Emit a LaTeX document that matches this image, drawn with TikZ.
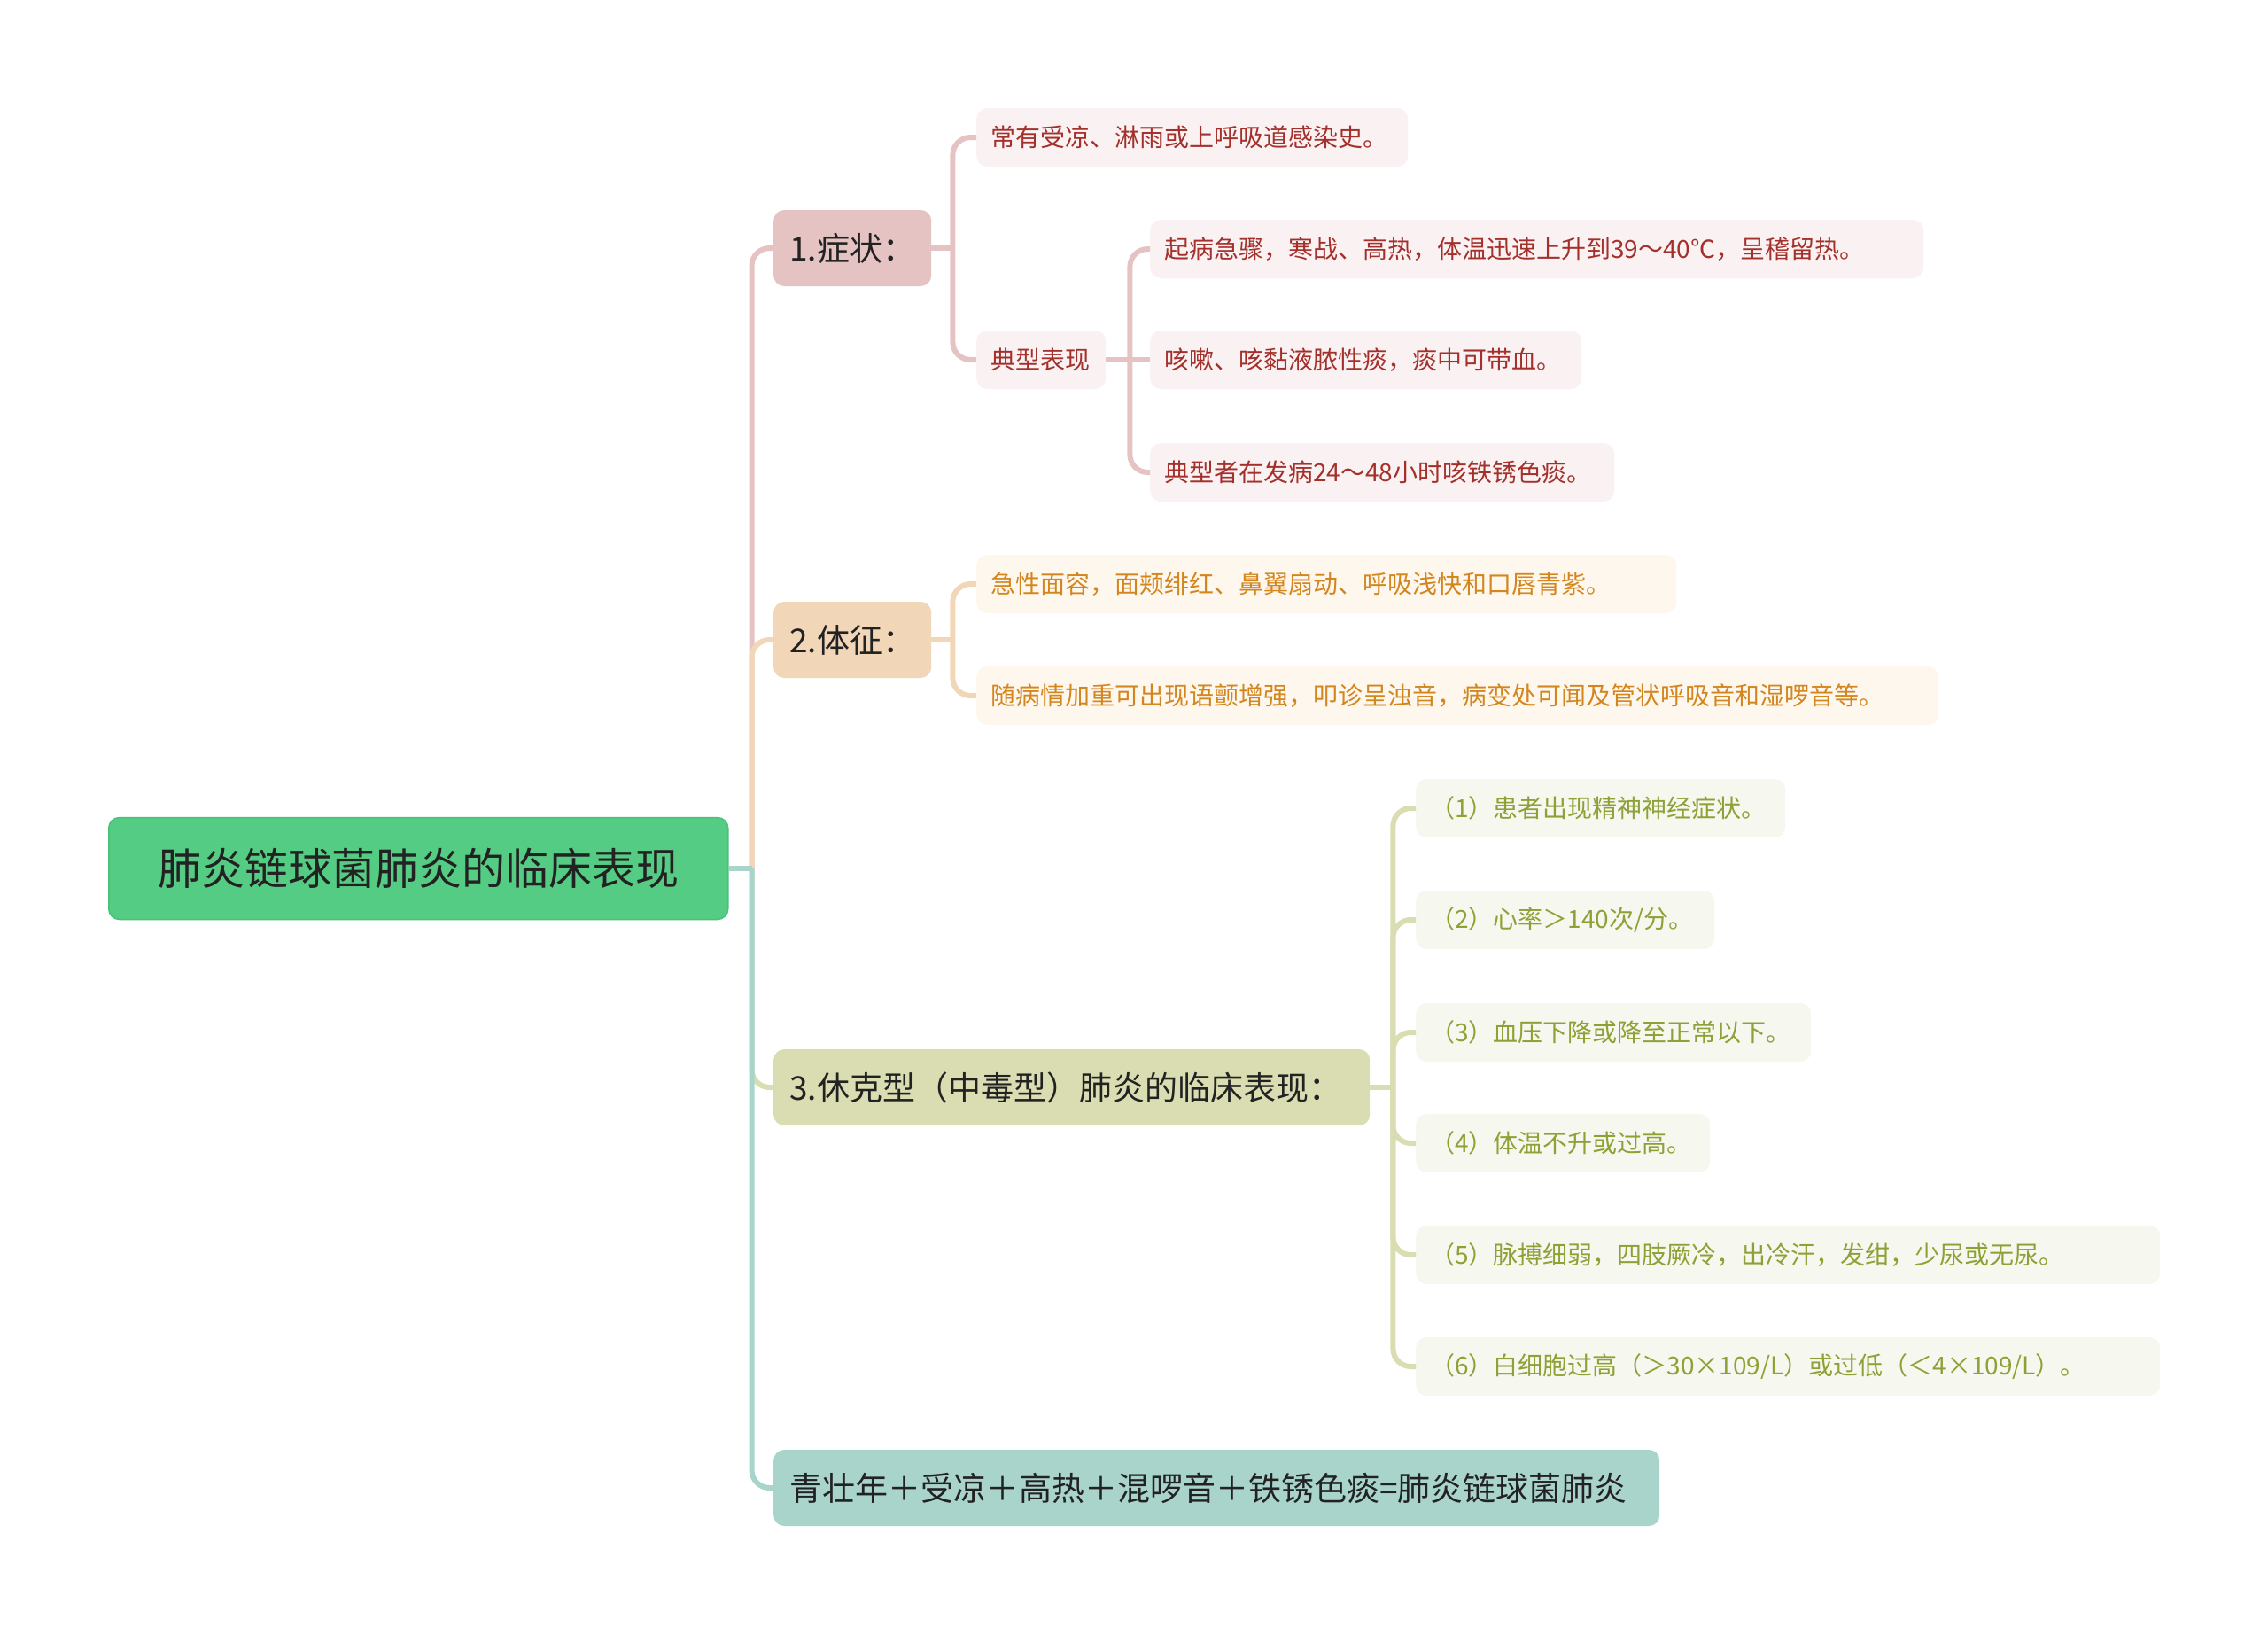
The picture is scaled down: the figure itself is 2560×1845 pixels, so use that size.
\documentclass[tikz,border=0pt]{standalone}
\usepackage{fontspec}
\setmainfont{Noto Sans CJK SC}
\usepackage{tikz}
\usetikzlibrary{positioning}
\definecolor{rootfill}{HTML}{55CC84}
\definecolor{rootedge}{HTML}{4CBF7A}
\definecolor{ink}{HTML}{222222}
\definecolor{pinkmain}{HTML}{E6C3C3}
\definecolor{pinkleaf}{HTML}{FAF2F2}
\definecolor{pinktext}{HTML}{A4302C}
\definecolor{orangemain}{HTML}{F2D6B8}
\definecolor{orangeleaf}{HTML}{FEF7EE}
\definecolor{orangetext}{HTML}{D4861E}
\definecolor{olivemain}{HTML}{DADCB1}
\definecolor{oliveleaf}{HTML}{F6F7EE}
\definecolor{olivetext}{HTML}{8DA136}
\definecolor{tealmain}{HTML}{A9D4CB}

\begin{document}
\begin{tikzpicture}[
    x=1pt, y=1pt,
    every node/.style={inner sep=0pt},
    rootbox/.style={
        rectangle,
        rounded corners=12pt,
        fill=rootfill,
        draw=rootedge,
        line width=1.5pt,
        text=ink,
        inner xsep=20pt,
        text width=659pt,
        align=center,
        minimum height=115pt,
        font=\fontsize{49}{58}\selectfont
    },
    topic/.style={
        rectangle,
        rounded corners=12pt,
        text=ink,
        inner xsep=18pt,
        align=left,
        minimum height=86pt,
        font=\fontsize{37}{44}\selectfont
    },
    leaf/.style={
        rectangle,
        rounded corners=12pt,
        inner xsep=16pt,
        align=left,
        minimum height=66pt,
        font=\fontsize{28}{34}\selectfont
    },
    leafpink/.style={leaf, fill=pinkleaf, text=pinktext},
    leaforange/.style={leaf, fill=orangeleaf, text=orangetext},
    leafolive/.style={leaf, fill=oliveleaf, text=olivetext},
    link/.style={line width=6pt, rounded corners=20pt}
]
\useasboundingbox (0,0) rectangle (2560,-1845);

% NODES
\node[rootbox, anchor=west] (root) at (122,-980) {肺炎链球菌肺炎的临床表现};

\node[topic, fill=pinkmain, text width=142pt, anchor=west] (symptom) at (873,-280) {1.症状：};
\node[topic, fill=orangemain, text width=142pt, anchor=west] (sign) at (873,-722) {2.体征：};
\node[topic, fill=olivemain, text width=637pt, anchor=west] (shock) at (873,-1227) {3.休克型（中毒型）肺炎的临床表现：};
\node[topic, fill=tealmain, text width=964pt, anchor=west] (formula) at (873,-1679) {青壮年＋受凉＋高热＋混啰音＋铁锈色痰=肺炎链球菌肺炎};

\node[leafpink, text width=455pt, anchor=west] (history) at (1102,-155) {常有受凉、淋雨或上呼吸道感染史。};
\node[leafpink, text width=114pt, anchor=west] (typical) at (1102,-406) {典型表现};

\node[leafpink, text width=841pt, anchor=west] (onset) at (1298,-281) {起病急骤，寒战、高热，体温迅速上升到39～40℃，呈稽留热。};
\node[leafpink, text width=455pt, anchor=west] (cough) at (1298,-406) {咳嗽、咳黏液脓性痰，痰中可带血。};
\node[leafpink, text width=492pt, anchor=west] (rust) at (1298,-533) {典型者在发病24～48小时咳铁锈色痰。};

\node[leaforange, text width=758pt, anchor=west] (face) at (1102,-659) {急性面容，面颊绯红、鼻翼扇动、呼吸浅快和口唇青紫。};
\node[leaforange, text width=1054pt, anchor=west] (lung) at (1102,-785) {随病情加重可出现语颤增强，叩诊呈浊音，病变处可闻及管状呼吸音和湿啰音等。};

\node[leafolive, text width=385pt, anchor=west] (mind) at (1598,-912) {（1）患者出现精神神经症状。};
\node[leafolive, text width=305pt, anchor=west] (heart) at (1598,-1038) {（2）心率＞140次/分。};
\node[leafolive, text width=414pt, anchor=west] (press) at (1598,-1165) {（3）血压下降或降至正常以下。};
\node[leafolive, text width=300pt, anchor=west] (temp) at (1598,-1290) {（4）体温不升或过高。};
\node[leafolive, text width=808pt, anchor=west] (pulse) at (1598,-1416) {（5）脉搏细弱，四肢厥冷，出冷汗，发绀，少尿或无尿。};
\node[leafolive, text width=808pt, anchor=west] (wbc) at (1598,-1542) {（6）白细胞过高（＞30×109/L）或过低（＜4×109/L）。};

% HUBS
\coordinate (hub) at ([xshift=26pt]root.east);
\coordinate (hubsym) at ([xshift=24pt]symptom.east);
\coordinate (hubtyp) at ([xshift=27pt]typical.east);
\coordinate (hubsign) at ([xshift=24pt]sign.east);
\coordinate (hubshock) at ([xshift=26pt]shock.east);

% CONNECTORS
\draw[link, pinkmain] (hub) |- (symptom.west);
\draw[link, orangemain] (hub) |- (sign.west);
\draw[link, olivemain] (hub) |- (shock.west);
\draw[link, tealmain] (hub) |- (formula.west);
\draw[link, tealmain] (root.east) -- (hub);

\draw[link, pinkmain] (symptom.east) -- (hubsym);
\draw[link, pinkmain] (hubsym) |- (history.west);
\draw[link, pinkmain] (hubsym) |- (typical.west);

\draw[link, pinkmain] (typical.east) -- (hubtyp);
\draw[link, pinkmain] (hubtyp) |- (onset.west);
\draw[link, pinkmain] (hubtyp) -- (cough.west);
\draw[link, pinkmain] (hubtyp) |- (rust.west);

\draw[link, orangemain] (sign.east) -- (hubsign);
\draw[link, orangemain] (hubsign) |- (face.west);
\draw[link, orangemain] (hubsign) |- (lung.west);

\draw[link, olivemain] (shock.east) -- (hubshock);
\foreach \leafname in {mind, heart, press, temp, pulse, wbc}
    \draw[link, olivemain] (hubshock) |- (\leafname.west);

\end{tikzpicture}
\end{document}
